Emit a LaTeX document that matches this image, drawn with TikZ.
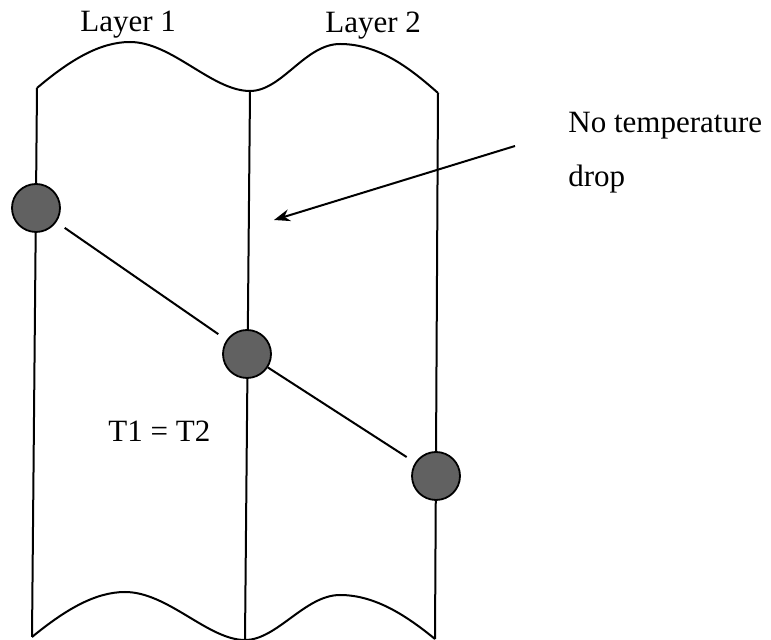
\documentclass[tikz,border=0pt]{standalone}
\usepackage{fontspec}
\setmainfont{Liberation Serif}
\usetikzlibrary{arrows.meta,positioning}

\begin{document}
\begin{tikzpicture}[x=0.5pt,y=-0.5pt,>=Stealth,
    edge/.style={line width=1pt},
    probe/.style={circle,draw=black,line width=0.9pt,fill=black!62,
      minimum size=24pt,inner sep=0pt},
    lbl/.style={font=\fontsize{15.5}{18}\selectfont,inner sep=0pt}]
  \useasboundingbox (0,0) rectangle (771,640);

  % upper wavy edge of both layers
  \draw[edge] (37,88) .. controls (70,60) and (100,42) .. (130,42)
    .. controls (172,42) and (212,91) .. (250,91)
    .. controls (282,91) and (305,44) .. (340,44)
    .. controls (380,44) and (412,70) .. (438,93);

  % lower wavy edge
  \draw[edge] (32,637) .. controls (65,610) and (95,592) .. (125,592)
    .. controls (168,592) and (208,640) .. (245,640)
    .. controls (277,640) and (305,595) .. (340,595)
    .. controls (376,595) and (408,617) .. (435,639);

  % layer boundaries
  \draw[edge] (37,88) -- (32,637);
  \draw[edge] (250,91) -- (245,640);
  \draw[edge] (438,93) -- (435,639);

  % temperature points
  \node[probe] (p1) at (36,208) {};
  \node[probe] (p2) at (247,354) {};
  \node[probe] (p3) at (436,476) {};
  \draw[edge,shorten <=5pt,shorten >=5pt] (p1) -- (p2);
  \draw[edge,shorten >=5pt] (p2) -- (p3);

  % labels
  \node[lbl,anchor=base west] (lay1) at (80,32) {Layer 1};
  \node[lbl,anchor=base west] (lay2) at (325,33) {Layer 2};
  \node[lbl,anchor=base west] (equal) at (108,442) {T1 = T2};
  \node[lbl,anchor=base west] (note) at (568,133) {No temperature};
  \node[lbl,anchor=base west] (drop) at ([yshift=-27pt]note.base west) {drop};

  % pointer to the interface
  \coordinate (tail) at (515,146);
  \coordinate (head) at (274,220);
  \draw[edge,-{Stealth[length=8pt,width=6pt]}] (tail) -- (head);
\end{tikzpicture}
\end{document}
